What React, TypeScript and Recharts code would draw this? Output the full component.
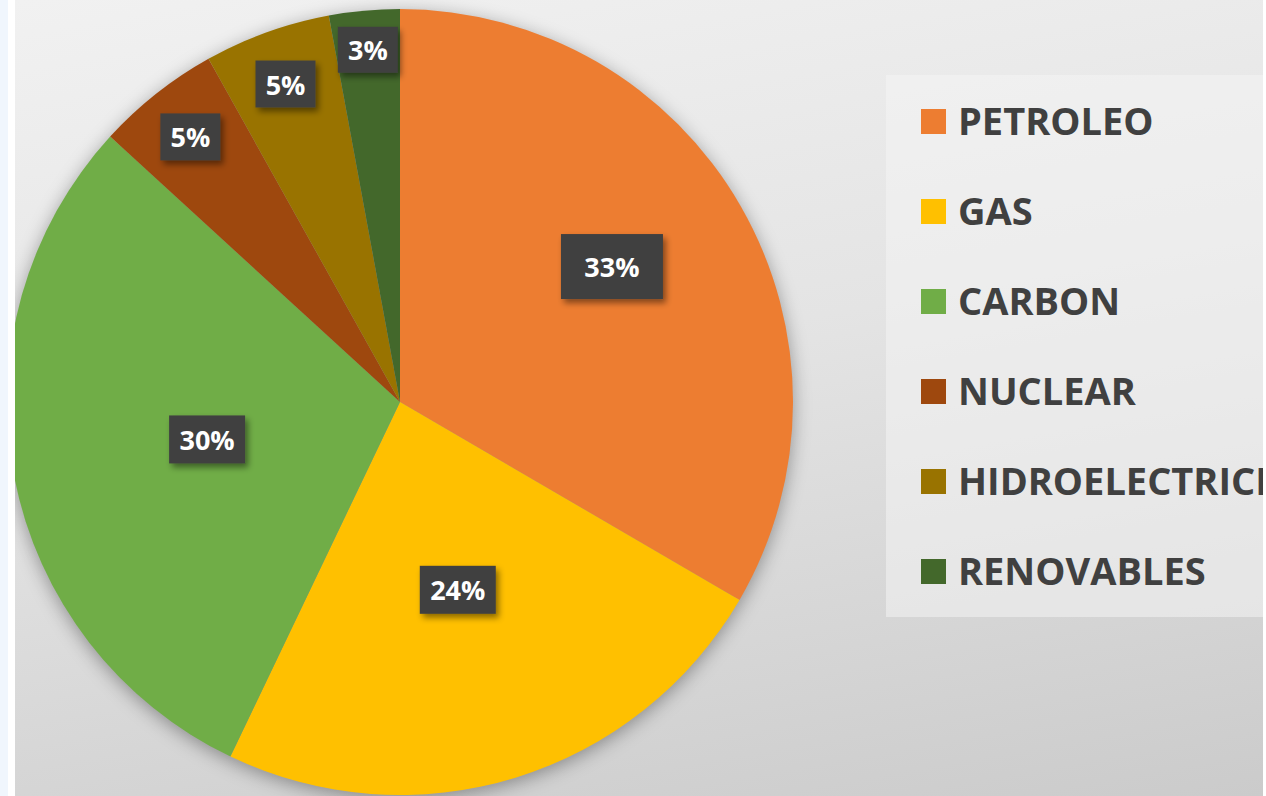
import React from "react";
import { PieChart, Pie, Cell, Legend } from "recharts";

const categories = ["PETROLEO", "GAS", "CARBON", "NUCLEAR", "HIDROELECTRICIDAD", "RENOVABLES"];
const shares = [33.4, 23.7, 29.7, 5.1, 5.2, 2.9];
const colors = ["#ED7D31", "#FFC000", "#70AD47", "#9E480E", "#997300", "#43682B"];
const labelRadius = [0.64, 0.5, 0.5, 0.86, 0.86, 0.9];
const labelAngleShift = [2.7, 0, 0, 0, 0, 0];
const labelBoxW = [102, 76, 76, 60, 60, 60];
const labelBoxH = [65, 48, 48, 47, 47, 46];

const data = categories.map((name, i) => ({ name, value: shares[i] }));
const RAD = Math.PI / 180;
const FONT = "'Open Sans', 'Noto Sans', sans-serif";

const renderLabel = (props: any) => {
  const { cx, cy, midAngle, outerRadius, index, value } = props;
  const r = outerRadius * labelRadius[index];
  const a = midAngle + labelAngleShift[index];
  const x = cx + r * Math.cos(-a * RAD);
  const y = cy + r * Math.sin(-a * RAD);
  const w = labelBoxW[index];
  const h = labelBoxH[index];
  return (
    <g>
      <rect x={x - w / 2} y={y - h / 2} width={w} height={h} fill="#404040" filter="url(#lblShadow)" />
      <text
        x={x}
        y={y}
        textAnchor="middle"
        dominantBaseline="central"
        fill="#ffffff"
        fontFamily={FONT}
        fontWeight={700}
        fontSize={27}
      >
        {Math.round(value) + "%"}
      </text>
    </g>
  );
};

const renderLegend = () => (
  <div
    style={{
      width: 380,
      height: 542,
      background: "rgba(244,244,244,0.55)",
      boxSizing: "border-box",
      paddingTop: 32,
      overflow: "hidden",
    }}
  >
    {categories.map((c, i) => (
      <div
        key={c}
        style={{
          height: 90,
          display: "flex",
          alignItems: "flex-start",
          whiteSpace: "nowrap",
        }}
      >
        <div style={{ width: 25, height: 25, background: colors[i], marginLeft: 35, marginTop: 2, flexShrink: 0 }} />
        <span
          style={{
            marginLeft: 12,
            fontFamily: FONT,
            fontWeight: 700,
            fontSize: 38,
            color: "#404040",
            lineHeight: "27px",
          }}
        >
          {c}
        </span>
      </div>
    ))}
  </div>
);

export default function App() {
  return (
    <div style={{ position: "absolute", left: 0, top: 0, width: 1266, height: 796, background: "#ffffff", overflow: "hidden" }}>
      <style>{`.pie-main .recharts-pie { filter: drop-shadow(0px 4px 9px rgba(0,0,0,0.35)); }`}</style>
      <div style={{ position: "absolute", left: 0, top: 0, width: 8, height: 796, background: "#f0f6fd" }} />
      <div
        className="pie-main"
        style={{
          position: "absolute",
          left: 15,
          top: 0,
          width: 1248,
          height: 796,
          overflow: "hidden",
          background: "linear-gradient(170deg, #f1f1f1 0%, #e4e4e4 45%, #cbcbcb 100%)",
        }}
      >
        <PieChart width={1248} height={796} margin={{ top: 0, right: 0, bottom: 0, left: 0 }}>
          <defs>
            <filter id="lblShadow" x="-30%" y="-30%" width="170%" height="170%">
              <feDropShadow dx="3" dy="4" stdDeviation="3" floodColor="#000000" floodOpacity="0.45" />
            </filter>
          </defs>
          <Pie
            data={data}
            dataKey="value"
            nameKey="name"
            cx={385}
            cy={402}
            outerRadius={393}
            startAngle={90}
            endAngle={-270}
            stroke="none"
            label={renderLabel}
            labelLine={false}
            isAnimationActive={false}
          >
            {data.map((d, i) => (
              <Cell key={d.name} fill={colors[i]} />
            ))}
          </Pie>
          <Legend
            content={renderLegend}
            layout="vertical"
            verticalAlign="top"
            align="right"
            wrapperStyle={{ position: "absolute", left: 871, top: 75, width: 380, height: 542 }}
          />
        </PieChart>
      </div>
    </div>
  );
}
